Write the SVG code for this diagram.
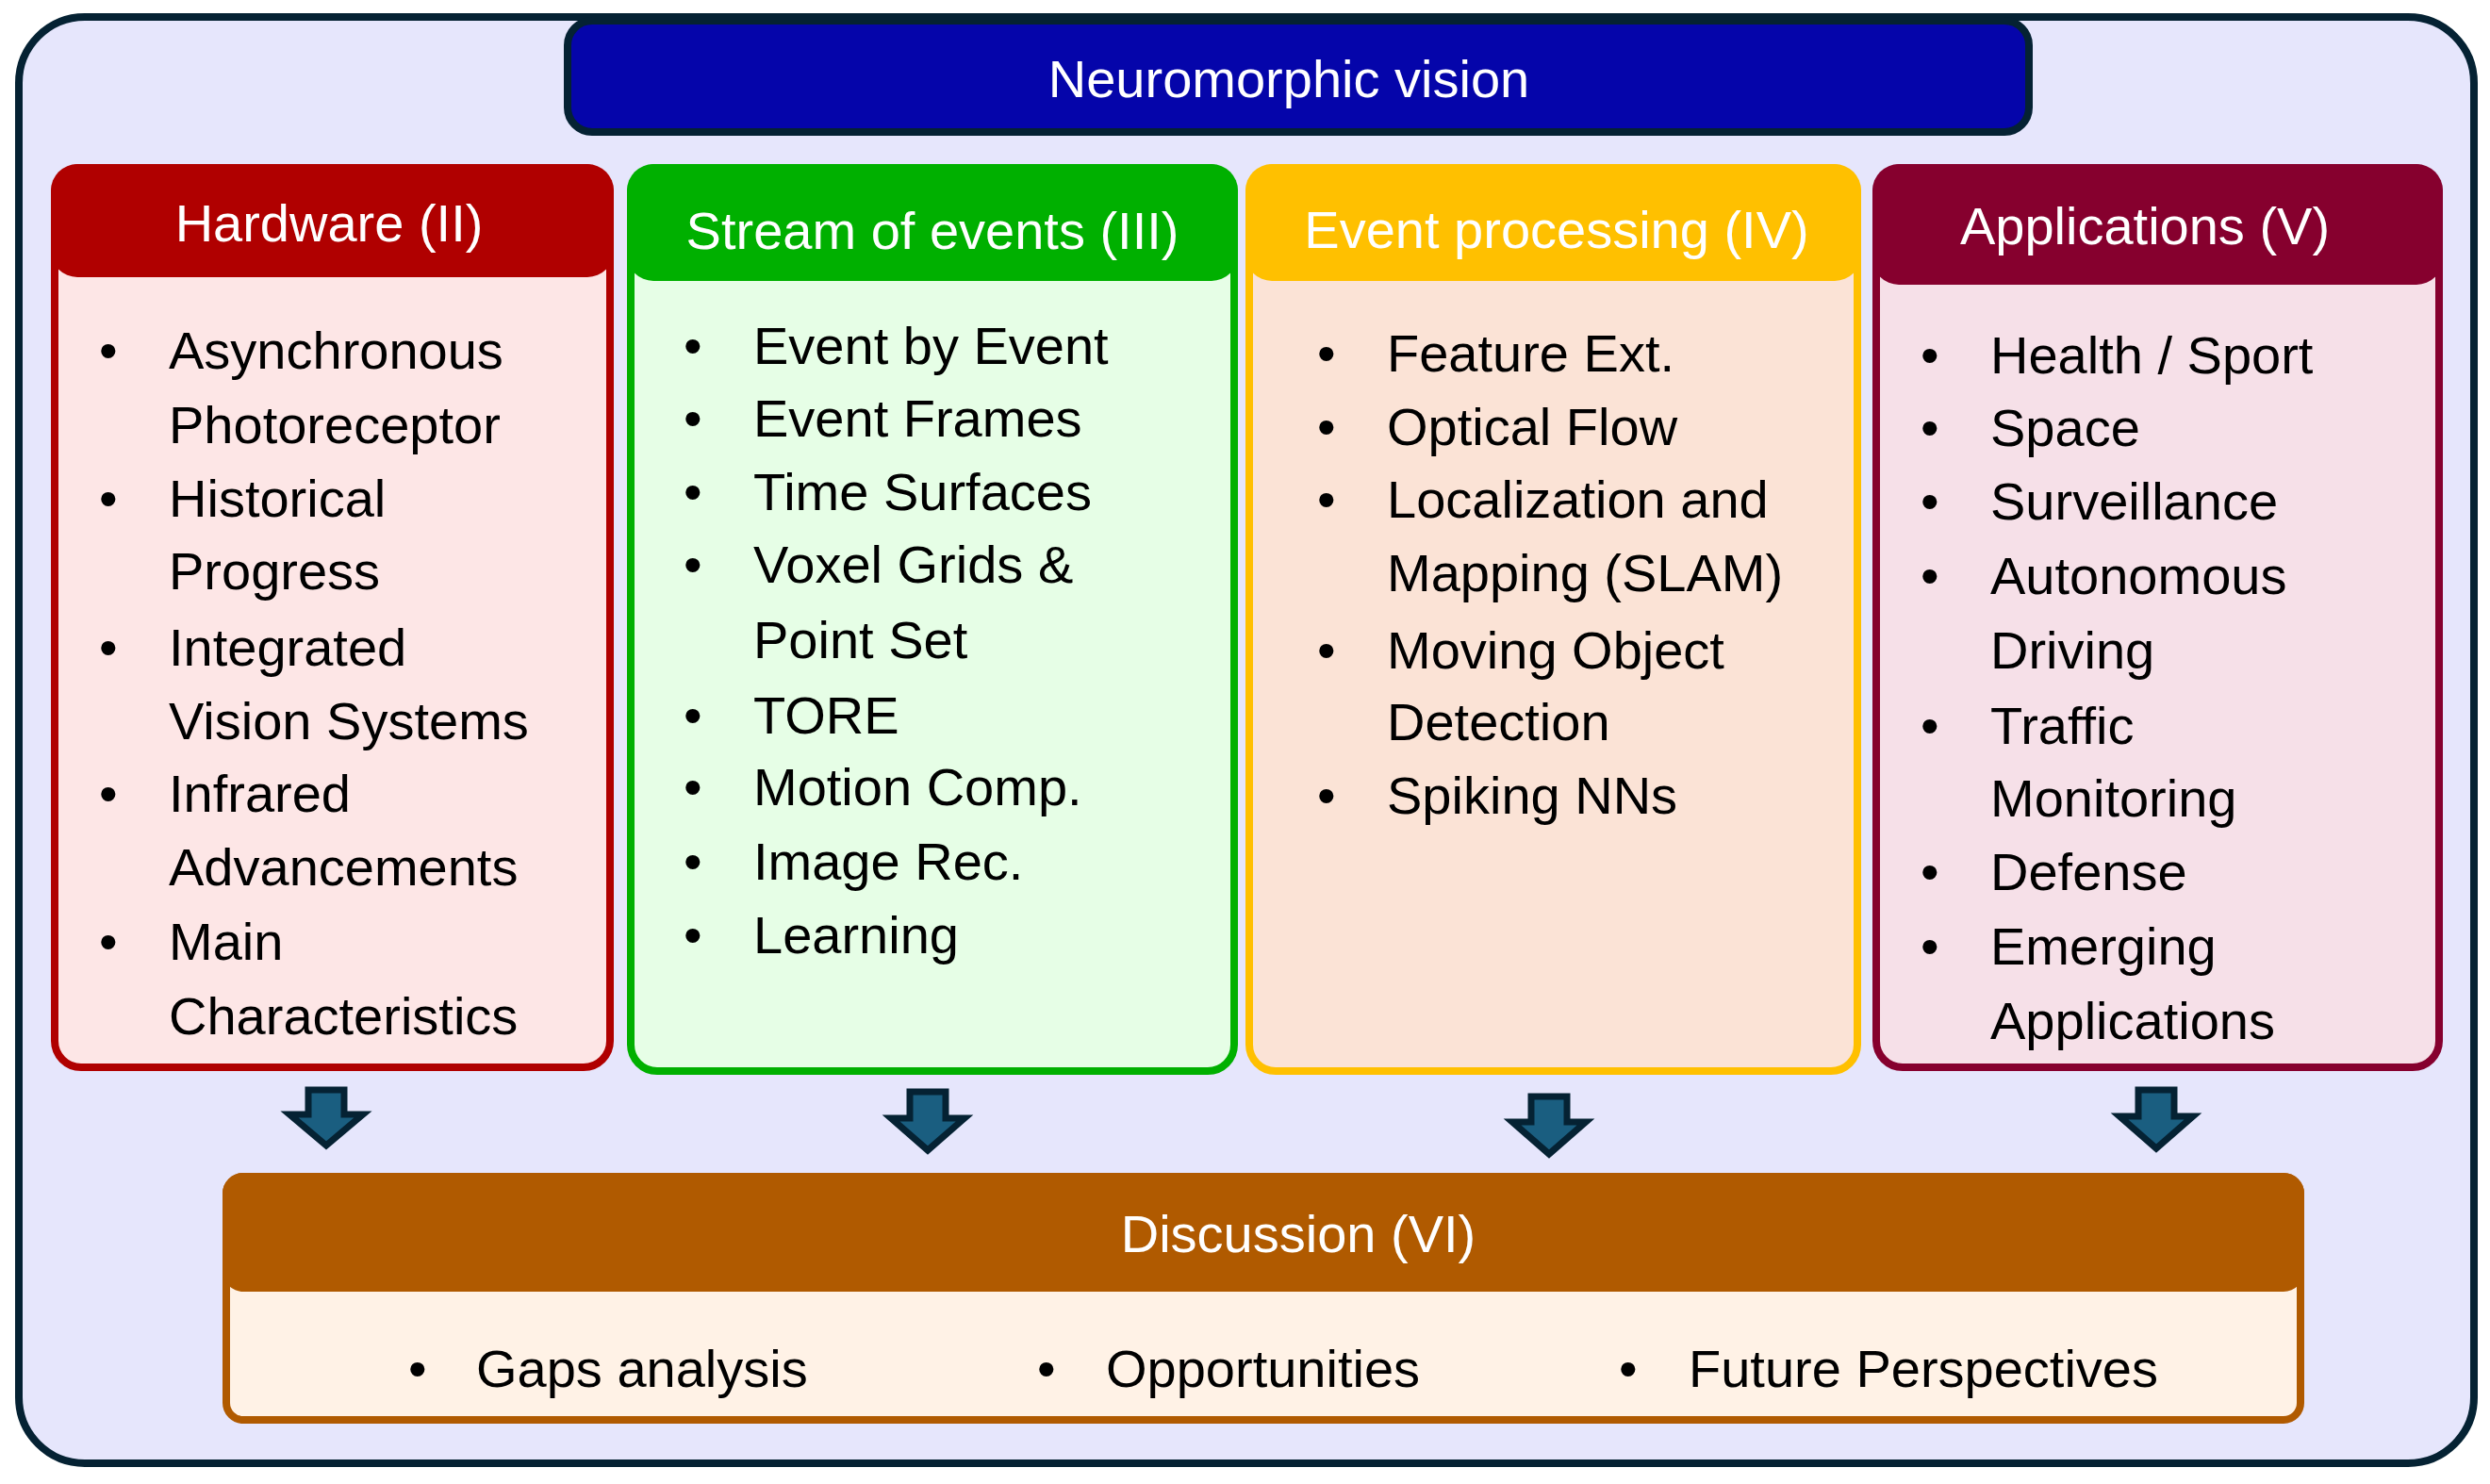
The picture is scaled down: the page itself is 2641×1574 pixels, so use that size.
<svg xmlns="http://www.w3.org/2000/svg" width="2641" height="1574" viewBox="0 0 2641 1574">
<style>
text{font-family:"Liberation Sans",Arial,sans-serif;}
.h{fill:#fff;font-size:56px;text-anchor:middle;}
.t{fill:#000;font-size:56px;}
.arr{fill:#1A5E80;stroke:#052233;stroke-width:7;}
</style>
<rect x="0" y="0" width="2641" height="1574" fill="#fff"/>
<g id="frame"><rect x="20" y="18" width="2604" height="1534" rx="70" fill="#E6E6FC" stroke="#052233" stroke-width="8"/></g>
<g id="title"><rect x="602" y="22" width="1550" height="118" rx="26" fill="#0505AA" stroke="#052233" stroke-width="8"/><text class="h" x="1367" y="103">Neuromorphic vision</text></g>
<g id="hardware">
<rect x="58" y="178" width="589" height="954" rx="28" fill="#FDE6E6" stroke="#B00000" stroke-width="8"/>
<rect x="54" y="174" width="597" height="120" rx="28" fill="#B00000"/>
<text class="h" x="349" y="256">Hardware (II)</text>
<g class="t"><text x="105" y="391">•</text><text x="179" y="391">Asynchronous</text><text x="179" y="470">Photoreceptor</text>
<text x="105" y="548">•</text><text x="179" y="548">Historical</text><text x="179" y="625">Progress</text>
<text x="105" y="706">•</text><text x="179" y="706">Integrated</text><text x="179" y="784">Vision Systems</text>
<text x="105" y="861">•</text><text x="179" y="861">Infrared</text><text x="179" y="939">Advancements</text>
<text x="105" y="1018">•</text><text x="179" y="1018">Main</text><text x="179" y="1097">Characteristics</text></g>
</g>
<g id="stream">
<rect x="669" y="178" width="640" height="958" rx="28" fill="#E6FEE6" stroke="#00B000" stroke-width="8"/>
<rect x="665" y="174" width="648" height="124" rx="28" fill="#00B000"/>
<text class="h" x="989" y="264">Stream of events (III)</text>
<g class="t"><text x="725" y="386">•</text><text x="799" y="386">Event by Event</text>
<text x="725" y="463">•</text><text x="799" y="463">Event Frames</text>
<text x="725" y="541">•</text><text x="799" y="541">Time Surfaces</text>
<text x="725" y="618">•</text><text x="799" y="618">Voxel Grids &amp;</text><text x="799" y="698">Point Set</text>
<text x="725" y="778">•</text><text x="799" y="778">TORE</text>
<text x="725" y="854">•</text><text x="799" y="854">Motion Comp.</text>
<text x="725" y="933">•</text><text x="799" y="933">Image Rec.</text>
<text x="725" y="1011">•</text><text x="799" y="1011">Learning</text></g>
</g>
<g id="processing">
<rect x="1325" y="178" width="645" height="958" rx="28" fill="#FBE3D6" stroke="#FFC000" stroke-width="8"/>
<rect x="1321" y="174" width="653" height="124" rx="28" fill="#FFC000"/>
<text class="h" x="1651" y="263">Event processing (IV)</text>
<g class="t"><text x="1397" y="394">•</text><text x="1471" y="394">Feature Ext.</text>
<text x="1397" y="472">•</text><text x="1471" y="472">Optical Flow</text>
<text x="1397" y="549">•</text><text x="1471" y="549">Localization and</text><text x="1471" y="627">Mapping (SLAM)</text>
<text x="1397" y="709">•</text><text x="1471" y="709">Moving Object</text><text x="1471" y="785">Detection</text>
<text x="1397" y="863">•</text><text x="1471" y="863">Spiking NNs</text></g>
</g>
<g id="applications">
<rect x="1990" y="178" width="597" height="954" rx="28" fill="#F6E0E8" stroke="#86002E" stroke-width="8"/>
<rect x="1986" y="174" width="605" height="128" rx="28" fill="#86002E"/>
<text class="h" x="2275" y="259">Applications (V)</text>
<g class="t"><text x="2037" y="396">•</text><text x="2111" y="396">Health / Sport</text>
<text x="2037" y="473">•</text><text x="2111" y="473">Space</text>
<text x="2037" y="551">•</text><text x="2111" y="551">Surveillance</text>
<text x="2037" y="630">•</text><text x="2111" y="630">Autonomous</text><text x="2111" y="709">Driving</text>
<text x="2037" y="789">•</text><text x="2111" y="789">Traffic</text><text x="2111" y="866">Monitoring</text>
<text x="2037" y="944">•</text><text x="2111" y="944">Defense</text>
<text x="2037" y="1023">•</text><text x="2111" y="1023">Emerging</text><text x="2111" y="1102">Applications</text></g>
</g>
<g id="connectors">
<path class="arr" d="M327 1156 H365 V1182 H385 L346 1215 L307 1182 H327 Z"/>
<path class="arr" d="M965 1158 H1003 V1186 H1023 L984 1220 L945 1186 H965 Z"/>
<path class="arr" d="M1624 1163 H1662 V1190 H1682 L1643 1224 L1604 1190 H1624 Z"/>
<path class="arr" d="M2268 1156 H2306 V1184 H2326 L2287 1218 L2248 1184 H2268 Z"/>
</g>
<g id="discussion">
<rect x="240" y="1248" width="2200" height="258" rx="18" fill="#FFF2E6" stroke="#B05A00" stroke-width="8"/>
<rect x="236" y="1244" width="2208" height="126" rx="22" fill="#B05A00"/>
<text class="h" x="1377" y="1328">Discussion (VI)</text>
<g class="t"><text x="433" y="1471">•</text><text x="505" y="1471">Gaps analysis</text>
<text x="1100" y="1471">•</text><text x="1173" y="1471">Opportunities</text>
<text x="1717" y="1471">•</text><text x="1791" y="1471">Future Perspectives</text></g>
</g>
</svg>
